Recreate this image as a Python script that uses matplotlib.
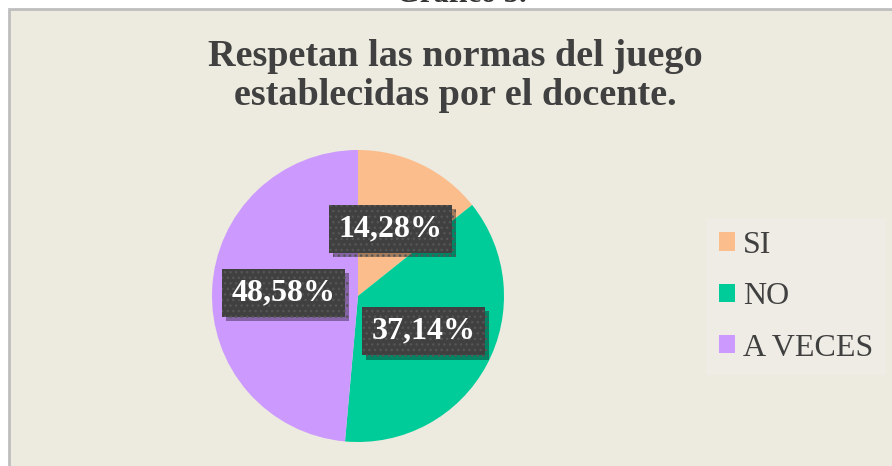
import matplotlib
matplotlib.use('Agg')
import matplotlib.pyplot as plt
import matplotlib.patheffects as pe
from matplotlib.patches import Rectangle
import numpy as np

# datos
categorias = ['SI', 'NO', 'A VECES']
porcentajes = [14.28, 37.14, 48.58]
etiquetas = ['14,28%', '37,14%', '48,58%']
colores = ['#FBBD8C', '#00CC99', '#CC99FF']

titulo = 'Respetan las normas del juego\nestablecidas por el docente.'
encabezado = 'Gráfico 5.'

plt.rcParams['font.family'] = ['Liberation Serif', 'DejaVu Serif']

W, H = 892, 466
fig = plt.figure(figsize=(W / 100, H / 100), dpi=100)
fig.patch.set_facecolor('white')

# fondo del grafico
fondo = Rectangle((9 / W, -0.05), 1.1, 1 - 9 / H + 0.05, transform=fig.transFigure,
                  facecolor='#EDEADF', edgecolor='#BEBEBE', linewidth=2, zorder=-5)
fig.patches.append(fondo)

# encabezado cortado arriba (solo se ve la parte inferior)
fig.text(461 / W, 1 - 2 / H, encabezado, ha='center', va='baseline',
         fontsize=22, fontweight='bold', color='#333333')

fig.text(455 / W, 1 - 76 / H, titulo, ha='center', va='center',
         fontsize=27.5, fontweight='bold', color='#404040', linespacing=1.15)

# pastel
cx, cy, r = 358, 296, 146
ax = fig.add_axes([(cx - r) / W, (H - cy - r) / H, 2 * r / W, 2 * r / H])
wedges, _ = ax.pie(porcentajes, colors=colores, startangle=90, counterclock=False,
                   radius=1)
ax.set_xlim(-1, 1)
ax.set_ylim(-1, 1)
ax.set_aspect('equal')

for w, txt in zip(wedges, etiquetas):
    ang = np.deg2rad((w.theta1 + w.theta2) / 2)
    d = 0.51
    t = ax.text(d * np.cos(ang), d * np.sin(ang), txt, ha='center', va='center',
                fontsize=23, fontweight='bold', color='white', zorder=5,
                bbox=dict(boxstyle='square,pad=0.3', facecolor='#404040',
                          edgecolor='#555555', hatch='...', linewidth=0))
    t.get_bbox_patch().set_path_effects([
        pe.SimplePatchShadow(offset=(3, -3), shadow_rgbFace='black', alpha=0.35),
        pe.Normal()])

leg = fig.legend(wedges, categorias, loc='upper left',
                 bbox_to_anchor=(706 / W, 1 - 218 / H), borderaxespad=0,
                 fontsize=23, frameon=True, fancybox=False,
                 facecolor='#EEECE4', edgecolor='none', framealpha=1,
                 handlelength=0.5, handleheight=0.5, handletextpad=0.25,
                 labelspacing=0.7, borderpad=0.4)
for txt in leg.get_texts():
    txt.set_color('#404040')

fig.savefig('out.png', dpi=100)
